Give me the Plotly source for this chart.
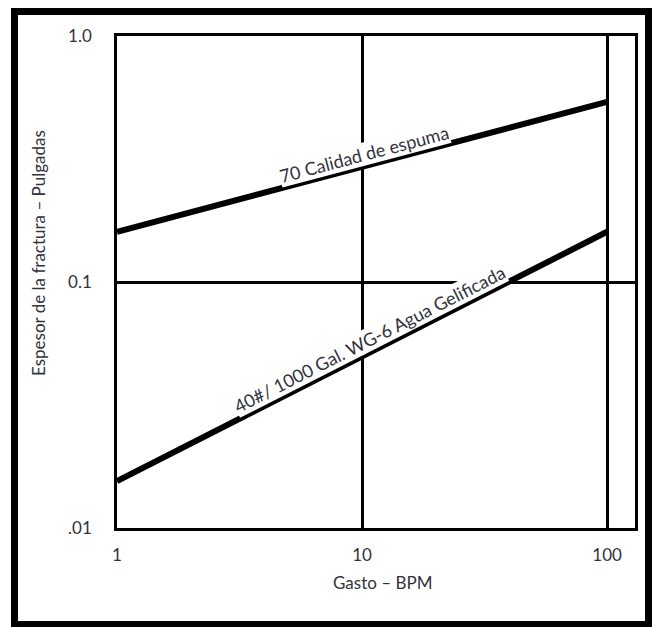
import math
import plotly.graph_objects as go

# Flow rate (BPM) and fracture width (inches) for each fluid
gasto_bpm = [1, 100]
espuma_70 = [0.16, 0.54]
agua_gelificada = [0.0155, 0.16]

x_ticks = [1, 10, 100]
x_ticktext = ["1", "10", "100"]
y_ticks = [0.01, 0.1, 1.0]
y_ticktext = [".01", "0.1", "1.0"]

W, H = 655, 627
M = dict(l=117, r=20, t=36, b=99)
x_range = [0, math.log10(130)]
y_range = [-2, 0]

plot_w = W - M["l"] - M["r"]
plot_h = H - M["t"] - M["b"]
px_per_dec_x = plot_w / (x_range[1] - x_range[0])
px_per_dec_y = plot_h / (y_range[1] - y_range[0])


def slope_angle(xs, ys):
    dx = (math.log10(xs[1]) - math.log10(xs[0])) * px_per_dec_x
    dy = (math.log10(ys[1]) - math.log10(ys[0])) * px_per_dec_y
    return math.degrees(math.atan2(dy, dx))


def on_line(xs, ys, x):
    t = (math.log10(x) - math.log10(xs[0])) / (math.log10(xs[1]) - math.log10(xs[0]))
    return 10 ** (math.log10(ys[0]) + t * (math.log10(ys[1]) - math.log10(ys[0])))


TXT = "#33333d"
FONT = "Lato"

fig = go.Figure()
for ys in (espuma_70, agua_gelificada):
    fig.add_trace(go.Scatter(x=gasto_bpm, y=ys, mode="lines",
                             line=dict(color="black", width=6),
                             showlegend=False, hoverinfo="skip"))


def line_label(text, ys, xpos, offset):
    ang = slope_angle(gasto_bpm, ys)
    r = math.radians(ang)
    fig.add_annotation(
        x=math.log10(xpos), y=math.log10(on_line(gasto_bpm, ys, xpos)),
        xref="x", yref="y", text=text, showarrow=False,
        xanchor="center", yanchor="middle",
        textangle=-ang, font=dict(family=FONT, size=18, color=TXT),
        bgcolor="white", borderpad=0,
        xshift=-offset * math.sin(r), yshift=offset * math.cos(r),
    )


line_label("70 Calidad de espuma", espuma_70, 10.5, 12)
line_label("40#/ 1000 Gal. WG-6 Agua Gelificada", agua_gelificada, 11.3, 12)

axis_common = dict(
    showline=True, linecolor="black", linewidth=2.5, mirror=True,
    showgrid=True, gridcolor="black", gridwidth=2.5,
    ticks="", zeroline=False,
    tickfont=dict(family=FONT, size=17, color=TXT),
)

fig.update_xaxes(type="log", range=x_range, tickvals=x_ticks, ticktext=x_ticktext,
                 ticklabelstandoff=10, **axis_common)
fig.update_yaxes(type="log", range=y_range, tickvals=y_ticks, ticktext=y_ticktext,
                 ticklabelstandoff=19, **axis_common)

# Axis titles, placed in pixel terms relative to the plot area
fig.add_annotation(x=(382 - M["l"]) / plot_w, y=-(582 - (H - M["b"])) / plot_h,
                   xref="paper", yref="paper", xanchor="center", yanchor="middle",
                   text="Gasto – BPM", showarrow=False,
                   font=dict(family=FONT, size=17, color=TXT))
fig.add_annotation(x=(38 - M["l"]) / plot_w, y=1 - (253 - M["t"]) / plot_h,
                   xref="paper", yref="paper", xanchor="center", yanchor="middle",
                   text="Espesor de la fractura – Pulgadas",
                   showarrow=False, textangle=-90,
                   font=dict(family=FONT, size=17, color=TXT))

# Heavy frame around the whole figure
bx0, bx1, by0, by1 = 14.5, 648.5, 11.5, 624.5
fig.add_shape(type="rect", xref="paper", yref="paper",
              x0=(bx0 - M["l"]) / plot_w, x1=(bx1 - M["l"]) / plot_w,
              y0=1 - (by1 - M["t"]) / plot_h, y1=1 - (by0 - M["t"]) / plot_h,
              line=dict(color="black", width=7), layer="above")

fig.update_layout(width=W, height=H, margin=M,
                  paper_bgcolor="white", plot_bgcolor="white")

fig.write_html("out.html")
